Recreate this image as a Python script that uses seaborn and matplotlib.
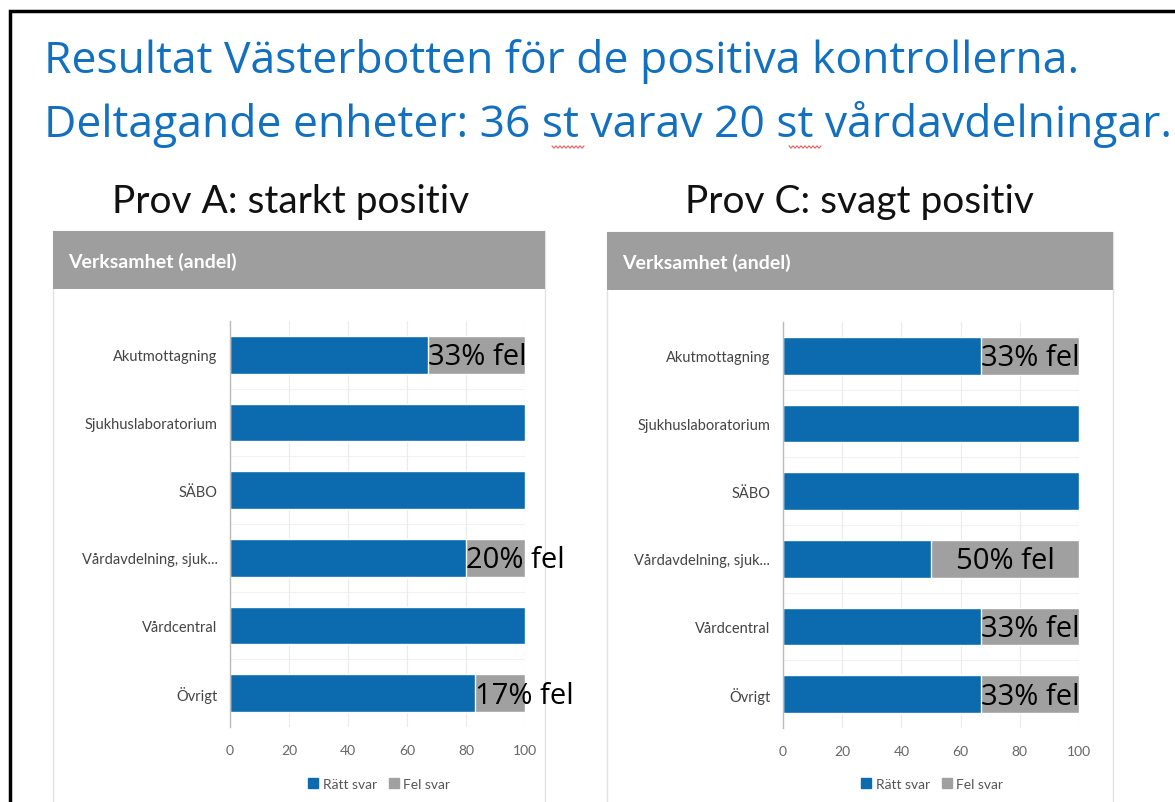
import matplotlib
matplotlib.use("Agg")
import matplotlib.pyplot as plt
import seaborn as sns
import pandas as pd
import numpy as np
from matplotlib.patches import Rectangle
from matplotlib.lines import Line2D

# ---------------- data ----------------
categories = ["Akutmottagning", "Sjukhuslaboratorium", "SÄBO",
              "Vårdavdelning, sjuk...", "Vårdcentral", "Övrigt"]
ratt_A = [67, 100, 100, 80, 100, 83]
fel_A = [33, 0, 0, 20, 0, 17]
ratt_C = [67, 100, 100, 50, 67, 67]
fel_C = [33, 0, 0, 50, 33, 33]
label_A = ["33% fel", "", "", "20% fel", "", "17% fel"]
label_C = ["33% fel", "", "", "50% fel", "33% fel", "33% fel"]
label_ha_A = ["left", "", "", "left", "", "left"]
label_ha_C = ["left", "", "", "center", "left", "left"]
xticks = [0, 20, 40, 60, 80, 100]
title_lines = ["Resultat Västerbotten för de positiva kontrollerna.",
               "Deltagande enheter: 36 st varav 20 st vårdavdelningar."]
subtitles = ["Prov A: starkt positiv", "Prov C: svagt positiv"]
header_text = "Verksamhet (andel)"
legend_labels = ["Rätt svar", "Fel svar"]

BLUE = "#0B6BAE"
GRAY = "#A0A0A0"
TITLE_BLUE = "#1370BE"

sns.set_theme(style="white")
plt.rcParams["font.family"] = ["Lato", "DejaVu Sans"]

W, H = 1175, 803
fig = plt.figure(figsize=(W / 100, H / 100), dpi=100)
fig.patch.set_facecolor("white")


def fx(px):
    return np.asarray(px) / W


def fy(py):
    return 1 - np.asarray(py) / H


# black outer frame
fig.add_artist(Rectangle((fx(10), fy(830)), fx(1200) - fx(10), fy(12) - fy(830),
                         transform=fig.transFigure, fill=False,
                         edgecolor="black", linewidth=2.5, zorder=-5))

# titles
for i, yy in enumerate((73, 137)):
    fig.text(fx(44), fy(yy), title_lines[i], color=TITLE_BLUE, fontsize=32,
             ha="left", va="baseline", family=["Open Sans", "DejaVu Sans"])

# squiggly spell-check marks under "st"
for x0 in (552, 789):
    xs = np.linspace(x0, x0 + 32, 17)
    ys = 148 + np.where(np.arange(17) % 2 == 0, -1.2, 1.2)
    fig.add_artist(Line2D(fx(xs), fy(ys), transform=fig.transFigure,
                          color="#E06060", linewidth=0.8))

panels = [
    dict(sub=subtitles[0], subx=112, card=(53, 545), head=(232, 290),
         ax=(230, 525, 322, 728), ratt=ratt_A, fel=fel_A, lab=label_A,
         ha=label_ha_A, legx=379),
    dict(sub=subtitles[1], subx=685, card=(607, 1113), head=(233, 291),
         ax=(783, 1079, 323, 729), ratt=ratt_C, fel=fel_C, lab=label_C,
         ha=label_ha_C, legx=932),
]

for p in panels:
    fig.text(fx(p["subx"]), fy(213), p["sub"], color="#111111", fontsize=28,
             ha="left", va="baseline")
    cl, cr = p["card"]
    ht, hb = p["head"]
    # card body
    fig.add_artist(Rectangle((fx(cl), fy(820)), fx(cr) - fx(cl), fy(ht) - fy(820),
                             transform=fig.transFigure, facecolor="white",
                             edgecolor="#E2E2E2", linewidth=1.0, zorder=-4))
    # header band
    fig.add_artist(Rectangle((fx(cl), fy(hb)), fx(cr) - fx(cl), fy(ht) - fy(hb),
                             transform=fig.transFigure, facecolor="#9E9E9E",
                             edgecolor="none", zorder=-3))
    fig.text(fx(cl + 15), fy((ht + hb) / 2 + 1), header_text, color="white",
             fontsize=14, fontweight="bold", ha="left", va="center")

    l, r, t, b = p["ax"]
    ax = fig.add_axes([fx(l), fy(b), fx(r) - fx(l), fy(t) - fy(b)])
    ax.patch.set_alpha(0)
    df = pd.DataFrame({"cat": categories, "ratt": p["ratt"],
                       "total": [a + f for a, f in zip(p["ratt"], p["fel"])]})
    sns.barplot(data=df, x="total", y="cat", color=GRAY, orient="h",
                width=0.56, saturation=1, ax=ax)
    sns.barplot(data=df, x="ratt", y="cat", color=BLUE, orient="h",
                width=0.56, saturation=1, ax=ax)
    ax.set_xlim(0, 100)
    ax.set_ylim(5.5, -0.5)
    ax.set_xticks(xticks)
    ax.set_xlabel("")
    ax.set_ylabel("")
    ax.set_axisbelow(True)
    ax.grid(axis="x", color="#EBEBEB", linewidth=0.8)
    for k in range(len(categories) - 1):
        ax.axhline(k + 0.5, color="#F2F2F2", linewidth=0.8, zorder=0)
    for s in ("top", "right", "bottom"):
        ax.spines[s].set_visible(False)
    ax.spines["left"].set_color("#BBBBBB")
    ax.spines["left"].set_linewidth(1.0)
    ax.tick_params(axis="x", length=0, pad=12, labelsize=10, labelcolor="#666666")
    ax.tick_params(axis="y", length=0, pad=9, labelsize=10.5, labelcolor="#444444")
    for i, (txt, ha) in enumerate(zip(p["lab"], p["ha"])):
        if not txt:
            continue
        if ha == "center":
            xpos = p["ratt"][i] + p["fel"][i] / 2
        else:
            xpos = p["ratt"][i]
        ax.text(xpos, i + 0.03, txt, ha=ha, va="center", fontsize=21,
                color="black", family=["Open Sans", "DejaVu Sans"], clip_on=False)

    handles = [Line2D([], [], marker="s", linestyle="none", markersize=7,
                      markerfacecolor=c, markeredgecolor=c) for c in (BLUE, GRAY)]
    fig.legend(handles, legend_labels, loc="center",
               bbox_to_anchor=(fx(p["legx"]), fy(785)), ncol=2, frameon=False,
               fontsize=10, labelcolor="#555555", handletextpad=0.3,
               columnspacing=0.8, handlelength=0.8)

fig.savefig("out.png", dpi=100, facecolor="white")
